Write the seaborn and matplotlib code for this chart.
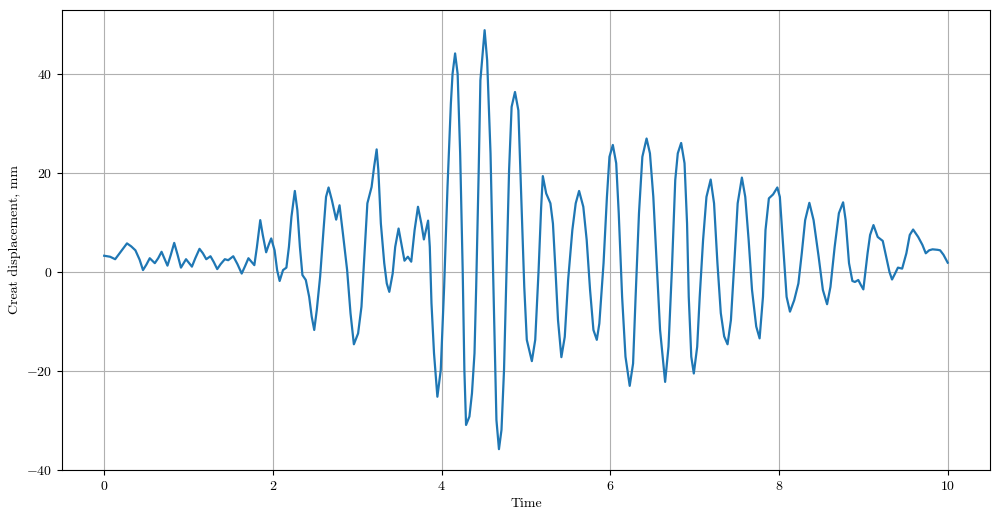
import matplotlib
matplotlib.use("Agg")
import matplotlib.pyplot as plt
import seaborn as sns
import pandas as pd

time = [0.00, 0.07, 0.13, 0.20, 0.27, 0.32, 0.37, 0.42, 0.46, 0.50, 0.54, 0.60, 0.64, 0.68, 0.75, 0.79,
        0.83, 0.87, 0.91, 0.97, 1.04, 1.08, 1.13, 1.17, 1.21, 1.26, 1.30, 1.34, 1.38, 1.43, 1.47, 1.53,
        1.58, 1.63, 1.67, 1.71, 1.78, 1.81, 1.85, 1.88, 1.92, 1.95, 1.98, 2.02, 2.05, 2.08, 2.12, 2.16,
        2.19, 2.22, 2.26, 2.29, 2.32, 2.35, 2.39, 2.43, 2.46, 2.49, 2.52, 2.56, 2.60, 2.63, 2.66, 2.70,
        2.75, 2.79, 2.83, 2.88, 2.92, 2.96, 3.01, 3.05, 3.09, 3.12, 3.17, 3.20, 3.23, 3.25, 3.28, 3.32,
        3.35, 3.38, 3.42, 3.45, 3.49, 3.53, 3.56, 3.60, 3.64, 3.68, 3.72, 3.76, 3.79, 3.84, 3.86, 3.88,
        3.91, 3.95, 3.99, 4.03, 4.07, 4.11, 4.13, 4.16, 4.19, 4.22, 4.25, 4.27, 4.29, 4.33, 4.36, 4.39,
        4.41, 4.44, 4.46, 4.51, 4.54, 4.58, 4.61, 4.64, 4.65, 4.68, 4.71, 4.74, 4.77, 4.80, 4.83, 4.87,
        4.91, 4.94, 4.98, 5.01, 5.07, 5.11, 5.15, 5.18, 5.20, 5.24, 5.29, 5.32, 5.35, 5.38, 5.42, 5.46,
        5.50, 5.55, 5.59, 5.63, 5.68, 5.72, 5.76, 5.80, 5.84, 5.87, 5.92, 5.96, 5.99, 6.03, 6.07, 6.10,
        6.14, 6.18, 6.23, 6.27, 6.30, 6.34, 6.38, 6.43, 6.47, 6.51, 6.55, 6.59, 6.65, 6.69, 6.73, 6.77,
        6.80, 6.84, 6.88, 6.91, 6.93, 6.96, 6.99, 7.03, 7.06, 7.10, 7.14, 7.19, 7.23, 7.27, 7.31, 7.35,
        7.39, 7.43, 7.47, 7.51, 7.56, 7.60, 7.64, 7.68, 7.73, 7.77, 7.81, 7.84, 7.88, 7.93, 7.98, 8.01,
        8.05, 8.09, 8.13, 8.18, 8.23, 8.27, 8.31, 8.36, 8.41, 8.47, 8.52, 8.57, 8.61, 8.66, 8.71, 8.76,
        8.79, 8.83, 8.87, 8.90, 8.94, 8.97, 9.00, 9.05, 9.08, 9.12, 9.17, 9.23, 9.27, 9.31, 9.34, 9.37,
        9.41, 9.46, 9.51, 9.55, 9.59, 9.65, 9.70, 9.74, 9.78, 9.82, 9.88, 9.91, 9.95, 10.00]

displacement = [3.3, 3.1, 2.6, 4.2, 5.8, 5.2, 4.4, 2.5, 0.4, 1.5, 2.8, 1.8, 2.8, 4.1, 1.3, 3.5,
                5.9, 3.5, 0.9, 2.6, 1.1, 2.8, 4.7, 3.8, 2.6, 3.2, 2.0, 0.6, 1.6, 2.6, 2.4, 3.2,
                1.6, -0.3, 1.2, 2.8, 1.4, 5.0, 10.5, 7.5, 4.0, 5.5, 6.8, 4.4, 0.4, -1.8, 0.4, 0.9,
                5.1, 11.2, 16.4, 12.5, 5.1, -0.6, -1.6, -5.0, -9.0, -11.7, -7.7, -0.9, 8.5, 15.2, 17.1, 14.5,
                10.6, 13.5, 7.8, 0.4, -8.3, -14.6, -12.4, -7.0, 5.1, 13.9, 17.2, 21.3, 24.8, 20.6, 9.8, 1.8,
                -2.3, -4.0, -0.3, 5.1, 8.8, 5.1, 2.3, 3.1, 2.1, 8.5, 13.2, 9.8, 6.6, 10.4, 5.1, -6.3,
                -16.4, -25.2, -19.8, -3.0, 17.2, 34.1, 40.1, 44.2, 40.1, 24.0, 0.4, -19.8, -30.9, -29.2, -24.5, -16.4,
                -3.0, 20.6, 38.8, 48.9, 42.8, 24.0, 0.4, -21.8, -29.9, -35.8, -31.9, -19.8, 0.4, 20.6, 33.4, 36.4,
                32.7, 17.2, -3.0, -13.7, -18.0, -13.7, 0.4, 13.0, 19.4, 15.9, 13.9, 9.8, 0.4, -9.7, -17.2, -13.1,
                -1.6, 8.5, 13.9, 16.4, 13.2, 6.5, -3.6, -11.7, -13.7, -10.4, 1.8, 15.2, 23.3, 25.7, 22.0, 11.9,
                -5.0, -17.1, -23.0, -18.5, -5.0, 11.9, 23.3, 27.0, 24.0, 15.2, 1.8, -11.7, -22.2, -15.1, 0.4, 18.6,
                24.0, 26.1, 22.0, 9.8, -5.0, -17.1, -20.5, -15.1, -5.0, 6.5, 15.2, 18.7, 13.9, 1.8, -8.3, -13.0,
                -14.6, -9.7, 1.8, 13.9, 19.1, 15.2, 6.5, -3.6, -11.0, -13.4, -5.0, 8.5, 14.9, 15.7, 17.1, 15.2,
                5.1, -5.0, -8.0, -5.7, -2.3, 3.8, 10.5, 14.0, 10.5, 3.1, -3.6, -6.5, -3.0, 5.1, 11.9, 14.1,
                10.5, 1.8, -1.8, -2.0, -1.6, -2.6, -3.5, 3.8, 7.5, 9.5, 7.1, 6.3, 3.1, 0.0, -1.5, -0.5,
                0.9, 0.7, 3.8, 7.5, 8.6, 7.1, 5.5, 3.8, 4.4, 4.6, 4.5, 4.4, 3.5, 1.9]

assert len(time) == len(displacement), (len(time), len(displacement))

df = pd.DataFrame({"Time": time, "Creat displacement, mm": displacement})

plt.rcParams["font.family"] = "serif"
plt.rcParams["font.serif"] = ["cmr10", "DejaVu Serif"]
plt.rcParams["mathtext.fontset"] = "cm"
plt.rcParams["axes.formatter.use_mathtext"] = True
plt.rcParams["font.size"] = 10

fig = plt.figure(figsize=(10.02, 5.21), dpi=100)
ax = fig.add_axes([0.0619, 0.098, 0.926, 0.883])
sns.lineplot(data=df, x="Time", y="Creat displacement, mm", ax=ax,
             color="#1f77b4", linewidth=1.6, sort=False, estimator=None)
ax.set_xlim(-0.5, 10.5)
ax.set_ylim(-40, 53)
ax.set_xticks([0, 2, 4, 6, 8, 10])
ax.set_yticks([-40, -20, 0, 20, 40])
ax.grid(True, color="#b0b0b0", linewidth=0.8)
ax.set_axisbelow(True)
fig.savefig("out.png", dpi=100)
